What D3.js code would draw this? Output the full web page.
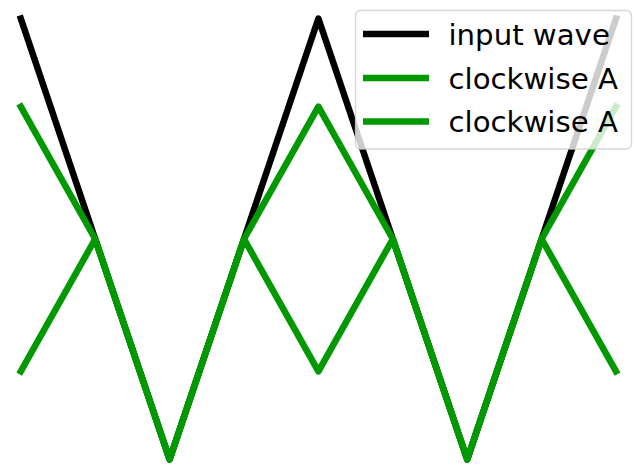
<!DOCTYPE html>
<html>
<head>
<meta charset="utf-8">
<script src="https://cdn.jsdelivr.net/npm/d3@7"></script>
<style>
  html, body { margin: 0; padding: 0; background: #fff; }
  svg { display: block; }
</style>
</head>
<body>
<svg id="chart" width="637" height="466"></svg>
<script>
// Data
const xs = [0, 1, 2, 3, 4, 5, 6, 7, 8];
const inputWave = [1, 0, -1, 0, 1, 0, -1, 0, 1];
const clockwiseA1 = [0.6, 0, -1, 0, 0.6, 0, -1, 0, 0.6];
const clockwiseA2 = [-0.6, 0, -1, 0, -0.6, 0, -1, 0, -0.6];
const seriesNames = ["input wave", "clockwise A", "clockwise A"];
const seriesColors = ["#000000", "#009900", "#009900"];

const svg = d3.select("#chart");
const x = d3.scaleLinear().domain([0, 8]).range([20.8, 616]);
const y = d3.scaleLinear().domain([-1, 1]).range([459.5, 18.5]);

const seriesList = [inputWave, clockwiseA1, clockwiseA2];
const line = d3.line().x((d, i) => x(xs[i])).y(d => y(d));

svg.append("g").selectAll("path")
  .data(seriesList)
  .join("path")
  .attr("d", d => line(d))
  .attr("fill", "none")
  .attr("stroke", (d, i) => seriesColors[i])
  .attr("stroke-width", 6.5)
  .attr("stroke-linejoin", "round")
  .attr("stroke-linecap", "square");

// Legend
const fs = 29.2;
const lg = svg.append("g");
lg.append("rect")
  .attr("x", 355.5).attr("y", 10.5)
  .attr("width", 276).attr("height", 138.5)
  .attr("rx", 5).attr("ry", 5)
  .attr("fill", "rgba(255,255,255,0.8)")
  .attr("stroke", "rgba(204,204,204,0.8)")
  .attr("stroke-width", 1.3);

const rowY = [34, 78, 121.5];
seriesNames.forEach((name, i) => {
  lg.append("line")
    .attr("x1", 363).attr("x2", 429)
    .attr("y1", rowY[i]).attr("y2", rowY[i])
    .attr("stroke", seriesColors[i])
    .attr("stroke-width", 6.5)
    .attr("stroke-linecap", "butt");
  lg.append("text")
    .attr("x", 448.5)
    .attr("y", rowY[i] + 10.5)
    .attr("font-family", "DejaVu Sans")
    .attr("font-size", fs)
    .attr("fill", "#000")
    .text(name);
});
</script>
</body>
</html>
